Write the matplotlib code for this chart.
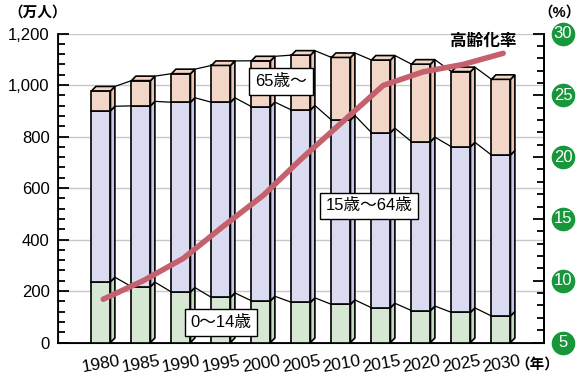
import numpy as np
import matplotlib
matplotlib.use('Agg')
from matplotlib import pyplot as plt
from matplotlib.patches import Polygon, Rectangle
from matplotlib.ticker import MultipleLocator, FuncFormatter
import matplotlib.transforms as mtransforms

plt.rcParams['font.family'] = ['Liberation Sans', 'Noto Sans CJK JP']

years = ['1980', '1985', '1990', '1995', '2000', '2005', '2010', '2015', '2020', '2025', '2030']
young = [236, 217, 196, 175, 162, 156, 148, 135, 124, 117, 103]      # 0~14歳
working = [664, 702, 737, 758, 754, 747, 716, 680, 656, 643, 625]    # 15~64歳
elderly = [77, 98, 111, 143, 178, 213, 243, 282, 301, 292, 294]      # 65歳~
aging_rate = [8.5, 10.0, 11.8, 14.4, 16.9, 20.0, 22.9, 25.8, 26.9, 27.5, 28.4]

face = ['#d6e8d4', '#dadaf0', '#f2d6c8']
side = ['#c2dcbe', '#c6c6ea', '#e8c6b4']

fig = plt.figure(figsize=(5.81, 3.74), dpi=100)
ax = fig.add_axes([0.0998, 0.0842, 0.8365, 0.8262])
ax.set_xlim(-1.075, 11.075)
ax.set_ylim(0, 1200)

w = 0.475   # front face width
dx = 0.11   # depth offset (x)
dy = 17.5   # depth offset (y)

x = np.arange(len(years))
b1 = np.array(young)
b2 = b1 + np.array(working)
b3 = b2 + np.array(elderly)
levels = [np.zeros(len(x)), b1, b2, b3]

for i in x:
    for k in range(3):
        lo, hi = levels[k][i], levels[k + 1][i]
        ax.add_patch(Rectangle((i - w / 2, lo), w, hi - lo, facecolor=face[k],
                               edgecolor='black', lw=1.2, zorder=3))
        ax.add_patch(Polygon([(i + w / 2, lo), (i + w / 2 + dx, lo + dy),
                              (i + w / 2 + dx, hi + dy), (i + w / 2, hi)],
                             closed=True, facecolor=side[k], edgecolor='black', lw=1.2, zorder=3))
    top = b3[i]
    ax.add_patch(Polygon([(i - w / 2, top), (i - w / 2 + dx, top + dy),
                          (i + w / 2 + dx, top + dy), (i + w / 2, top)],
                         closed=True, facecolor=face[2], edgecolor='black', lw=1.2, zorder=3))

# thin lines joining the segment tops of neighbouring bars
for lev in (b1, b2, b3):
    for i in x[:-1]:
        ax.plot([i + w / 2 + dx, i + 1 - w / 2], [lev[i] + dy, lev[i + 1]],
                color='black', lw=0.9, zorder=2)

ax.yaxis.set_major_locator(MultipleLocator(200))
ax.yaxis.set_minor_locator(MultipleLocator(40))
ax.yaxis.set_major_formatter(FuncFormatter(lambda v, p: f'{int(v):,}'))
ax.grid(axis='y', color='#c8c8c8', lw=1, zorder=0)
ax.set_axisbelow(True)
ax.tick_params(axis='y', which='major', direction='in', length=8, width=1.3, labelsize=12, pad=6)
ax.tick_params(axis='y', which='minor', direction='in', length=5, width=1.3)
ax.set_xticks(x)
ax.set_xticklabels(years, rotation=10, fontsize=12.5)
ax.tick_params(axis='x', length=0, pad=8)
ax.spines['top'].set_visible(False)
for s in ('left', 'right', 'bottom'):
    ax.spines[s].set_linewidth(1.3)

ax2 = ax.twinx()
ax2.set_ylim(5, 30)
ax2.plot(x + dx / 2, aging_rate, color='#c5616e', lw=4, solid_capstyle='round', zorder=5)
ax2.yaxis.set_major_locator(MultipleLocator(5))
ax2.yaxis.set_minor_locator(MultipleLocator(1))
ax2.tick_params(axis='y', which='major', direction='in', length=8, width=1.3, labelright=False)
ax2.tick_params(axis='y', which='minor', direction='in', length=5, width=1.3)
ax2.spines['top'].set_visible(False)
ax2.spines['right'].set_linewidth(1.3)

# green circled percentage labels
trans = mtransforms.blended_transform_factory(ax2.transAxes, ax2.transData)
for v in range(5, 31, 5):
    ax2.plot(1.039, v, 'o', ms=16, color='#17963c', transform=trans, clip_on=False, zorder=6)
    ax2.text(1.039, v, str(v), color='white', fontsize=12, ha='center', va='center',
             transform=trans, clip_on=False, zorder=7)

box = dict(boxstyle='square,pad=0.35', facecolor='white', edgecolor='black', lw=1)
ax2.text(4.5, 26.1, '65歳～', fontsize=12, ha='center', va='center', bbox=box, zorder=8)
ax2.text(6.7, 16.05, '15歳～64歳', fontsize=12, ha='center', va='center', bbox=box, zorder=8)
ax2.text(3.0, 6.6, '0～14歳', fontsize=12, ha='center', va='center', bbox=box, zorder=8)
ax2.text(9.55, 29.35, '高齢化率', fontsize=12, fontweight='bold', ha='center', va='center', zorder=8)

fig.text(38 / 581, 1 - 13 / 374, '（万人）', fontsize=10.5, fontweight='bold', ha='center', va='center')
fig.text(560 / 581, 1 - 13 / 374, '（%）', fontsize=10.5, fontweight='bold', ha='center', va='center')
fig.text(537 / 581, 1 - 365 / 374, '（年）', fontsize=10.5, fontweight='bold', ha='center', va='center')

fig.savefig('out.png', dpi=100)
